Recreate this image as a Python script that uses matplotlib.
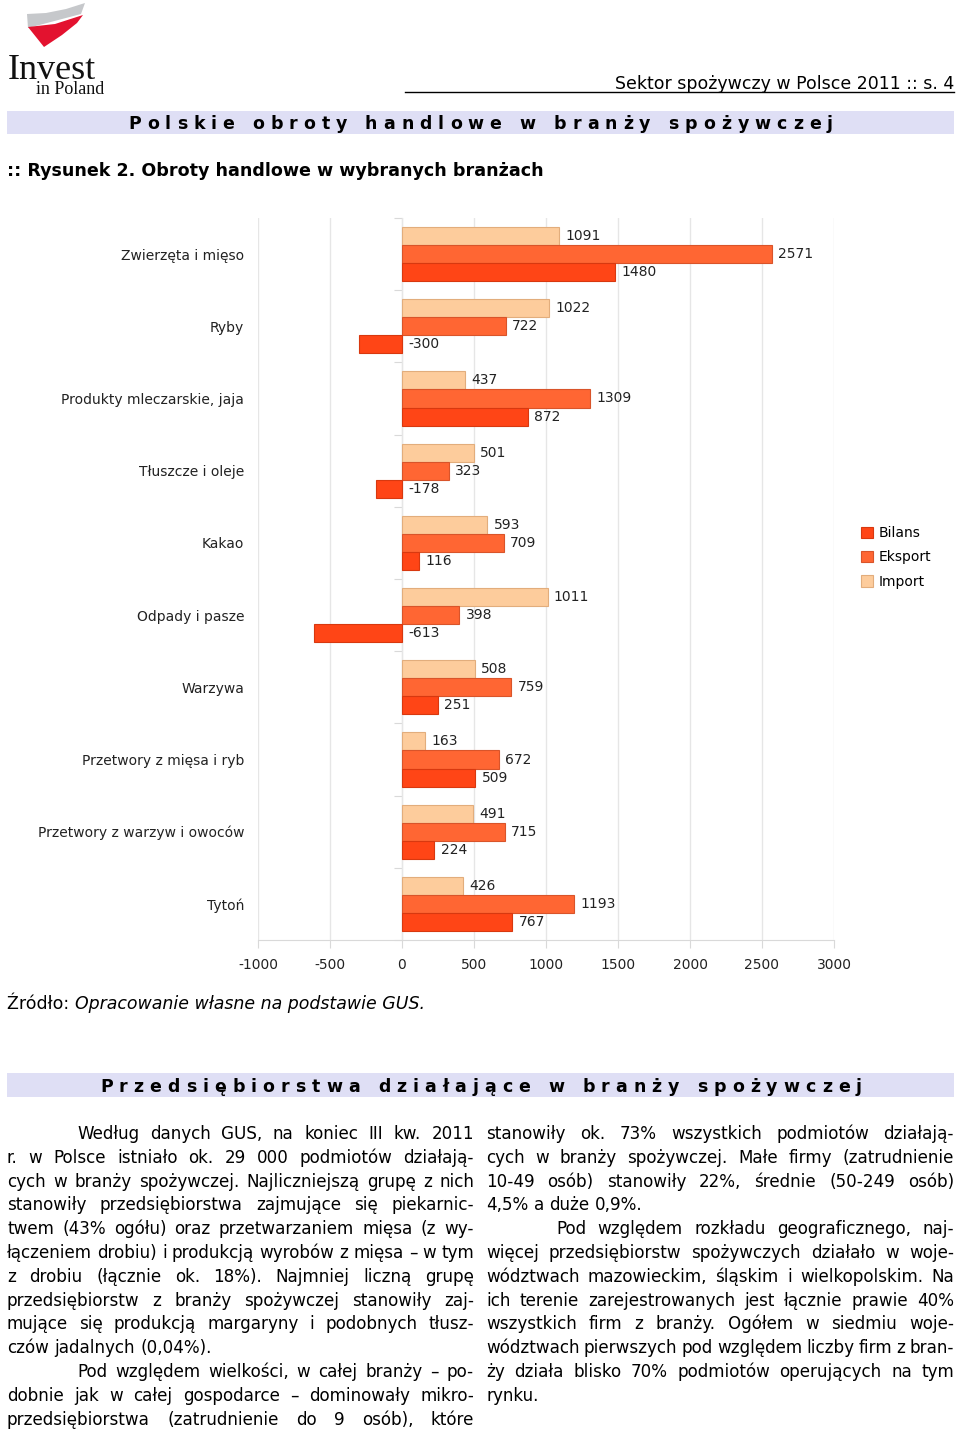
import matplotlib
matplotlib.use('Agg')
import matplotlib.pyplot as plt
from matplotlib.patches import Rectangle, Polygon
import numpy as np

# data
categories = ['Zwierzęta i mięso', 'Ryby', 'Produkty mleczarskie, jaja', 'Tłuszcze i oleje',
              'Kakao', 'Odpady i pasze', 'Warzywa', 'Przetwory z mięsa i ryb',
              'Przetwory z warzyw i owoców', 'Tytoń']
imports = [1091, 1022, 437, 501, 593, 1011, 508, 163, 491, 426]
exports = [2571, 722, 1309, 323, 709, 398, 759, 672, 715, 1193]
balance = [1480, -300, 872, -178, 116, -613, 251, 509, 224, 767]
x_ticks = [-1000, -500, 0, 500, 1000, 1500, 2000, 2500, 3000]

header = 'Sektor spożywczy w Polsce 2011 :: s. 4'
band1 = 'Polskie obroty handlowe w branży spożywczej'
band2 = 'Przedsiębiorstwa działające w branży spożywczej'
fig_title = ':: Rysunek 2. Obroty handlowe w wybranych branżach'

# (line, justify?, indent?)
left_col = [
    ('Według danych GUS, na koniec III kw. 2011', True, True),
    ('r. w Polsce istniało ok. 29 000 podmiotów działają-', True, False),
    ('cych w branży spożywczej. Najliczniejszą grupę z nich', True, False),
    ('stanowiły przedsiębiorstwa zajmujące się piekarnic-', True, False),
    ('twem (43% ogółu) oraz przetwarzaniem mięsa (z wy-', True, False),
    ('łączeniem drobiu) i produkcją wyrobów z mięsa – w tym', True, False),
    ('z drobiu (łącznie ok. 18%). Najmniej liczną grupę', True, False),
    ('przedsiębiorstw z branży spożywczej stanowiły zaj-', True, False),
    ('mujące się produkcją margaryny i podobnych tłusz-', True, False),
    ('czów jadalnych (0,04%).', False, False),
    ('Pod względem wielkości, w całej branży – po-', True, True),
    ('dobnie jak w całej gospodarce – dominowały mikro-', True, False),
    ('przedsiębiorstwa (zatrudnienie do 9 osób), które', True, False),
]
right_col = [
    ('stanowiły ok. 73% wszystkich podmiotów działają-', True, False),
    ('cych w branży spożywczej. Małe firmy (zatrudnienie', True, False),
    ('10-49 osób) stanowiły 22%, średnie (50-249 osób)', True, False),
    ('4,5% a duże 0,9%.', False, False),
    ('Pod względem rozkładu geograficznego, naj-', True, True),
    ('więcej przedsiębiorstw spożywczych działało w woje-', True, False),
    ('wództwach mazowieckim, śląskim i wielkopolskim. Na', True, False),
    ('ich terenie zarejestrowanych jest łącznie prawie 40%', True, False),
    ('wszystkich firm z branży. Ogółem w siedmiu woje-', True, False),
    ('wództwach pierwszych pod względem liczby firm z bran-', True, False),
    ('ży działa blisko 70% podmiotów operujących na tym', True, False),
    ('rynku.', False, False),
]

c_bil, c_eks, c_imp = '#ff4516', '#ff6633', '#fdcc9c'
e_bil, e_eks, e_imp = '#d8380f', '#d9542a', '#e2ad7c'
band_col = '#dfdff5'

plt.rcParams['font.family'] = ['DejaVu Sans']

fig = plt.figure(figsize=(9.6, 14.31), dpi=100)
page = fig.add_axes([0, 0, 1, 1])
page.set_xlim(0, 960)
page.set_ylim(1431, 0)
page.axis('off')
renderer = fig.canvas.get_renderer()


def wid(t):
    return t.get_window_extent(renderer).width


def fit_text(x, y, s, width, size, **kw):
    t = page.text(x, y, s, fontsize=size, **kw)
    t.set_fontsize(size * width / wid(t))
    return t


def tracked(x0, x1, y, s, size):
    # letter-spaced bold heading
    ts, ws = [], []
    sp = size * 100 / 72 * 0.348
    for ch in s:
        if ch == ' ':
            ts.append(None)
            ws.append(sp)
        else:
            t = page.text(0, y, ch, fontsize=size, fontweight='bold', va='baseline')
            ts.append(t)
            ws.append(wid(t))
    track = ((x1 - x0) - sum(ws)) / (len(s) - 1)
    x = x0
    for t, w in zip(ts, ws):
        if t is not None:
            t.set_x(x)
        x += w + track


def column(lines, x0, x1, y0, dy, size, indent=70):
    for i, (line, just, ind) in enumerate(lines):
        y = y0 + i * dy
        start = x0 + (indent if ind else 0)
        words = line.split(' ')
        ts = [page.text(0, y, w, fontsize=size, va='baseline') for w in words]
        ws = [wid(t) for t in ts]
        if just and len(words) > 1:
            gap = ((x1 - start) - sum(ws)) / (len(words) - 1)
        else:
            gap = size * 100 / 72 * 0.318
        x = start
        for t, w in zip(ts, ws):
            t.set_x(x)
            x += w + gap


def natural_max(lines, size, x0, x1, indent=70, min_space=0.6):
    worst = 0
    sp = size * 100 / 72 * 0.318 * min_space
    for line, just, ind in lines:
        if not just:
            continue
        words = line.split(' ')
        ts = [page.text(0, 0, w, fontsize=size) for w in words]
        tot = sum(wid(t) for t in ts) + sp * (len(words) - 1)
        for t in ts:
            t.remove()
        worst = max(worst, tot / ((x1 - x0) - (indent if ind else 0)))
    return worst


# logo
page.add_patch(Polygon([(27, 14), (46, 13), (66, 9), (85, 3), (81, 14), (28, 28)],
                       closed=True, color='#c6c8cb', lw=0))
page.add_patch(Polygon([(28, 27), (55, 24), (83, 15), (77, 23), (62, 35), (44, 47), (36, 37)],
                       closed=True, color='#e3122f', lw=0))
page.text(8, 79, 'Invest', fontsize=26, family='Liberation Serif', va='baseline', color='#111111')
page.text(36, 94, 'in Poland', fontsize=13, family='Liberation Serif', va='baseline', color='#111111')

# header
fit_text(954, 89, header, 341, 14, ha='right', va='baseline')
page.plot([405, 954], [92, 92], color='black', lw=1)

page.add_patch(Rectangle((7, 111), 947, 23, color=band_col, lw=0))
tracked(128, 833, 129, band1, 12.5)

fit_text(7, 176, fig_title, 537, 14, fontweight='bold', va='baseline')

# source line
t1 = page.text(7, 1009, 'Źródło: ', fontsize=13.5, va='baseline')
t2 = page.text(7, 1009, 'Opracowanie własne na podstawie GUS.', fontsize=13.5,
               style='italic', va='baseline')
scale = 417 / (wid(t1) + wid(t2))
t1.set_fontsize(13.5 * scale)
t2.set_fontsize(13.5 * scale)
t2.set_x(7 + wid(t1))

page.add_patch(Rectangle((7, 1073), 947, 24, color=band_col, lw=0))
tracked(100, 862, 1092, band2, 12.5)

# body text: size chosen so the tightest line still fits with narrowed spaces
body_size = 12.5
worst = max(natural_max(left_col, body_size, 7, 474), natural_max(right_col, body_size, 486, 954))
body_size = body_size * 0.99 / worst
column(left_col, 7, 474, 1139, 23.8, body_size)
column(right_col, 486, 954, 1139, 23.8, body_size)

# chart
ax = fig.add_axes([258 / 960, 1 - 940 / 1431, 576 / 960, 722 / 1431])
y = np.arange(len(categories))
h = 0.25
b_imp = ax.barh(y - h, imports, height=h, color=c_imp, edgecolor=e_imp, lw=0.8, label='Import')
b_eks = ax.barh(y, exports, height=h, color=c_eks, edgecolor=e_eks, lw=0.8, label='Eksport')
b_bil = ax.barh(y + h, balance, height=h, color=c_bil, edgecolor=e_bil, lw=0.8, label='Bilans')

fs = 10
for bars, vals in [(b_imp, imports), (b_eks, exports), (b_bil, balance)]:
    for r, v in zip(bars, vals):
        ax.annotate(str(v), xy=(max(v, 0), r.get_y() + r.get_height() / 2),
                    xytext=(4.5, 0), textcoords='offset points', va='center', ha='left',
                    fontsize=fs, color='#222222')

ax.set_xlim(-1000, 3000)
ax.set_ylim(len(categories) - 0.5, -0.5)
ax.set_xticks(x_ticks)
ax.set_xticklabels([str(v) for v in x_ticks], fontsize=fs, color='#222222')
ax.set_yticks(y)
ax.set_yticklabels(categories, fontsize=fs, color='#222222')
ax.tick_params(axis='y', length=0, pad=10)
ax.tick_params(axis='x', length=6, color='#d9d9d9', pad=7)
for s in ['top', 'right', 'left']:
    ax.spines[s].set_visible(False)
ax.spines['bottom'].set_color('#d9d9d9')
ax.grid(axis='x', color='#e6e6e6', lw=1)
ax.set_axisbelow(True)

sec = ax.secondary_yaxis(0.25)
sec.set_yticks(np.arange(-0.5, len(categories), 1))
sec.set_yticklabels([])
sec.tick_params(length=6, color='#d9d9d9')
sec.spines['left'].set_color('#d9d9d9')

ax.legend(handles=[b_bil, b_eks, b_imp], loc='upper left',
          bbox_to_anchor=(861 / 960, 1 - 526 / 1431), bbox_transform=fig.transFigure,
          frameon=False, fontsize=fs, handlelength=0.85, handleheight=0.85,
          handletextpad=0.4, labelspacing=0.75, borderpad=0, borderaxespad=0)

fig.savefig('out.png', dpi=100)
